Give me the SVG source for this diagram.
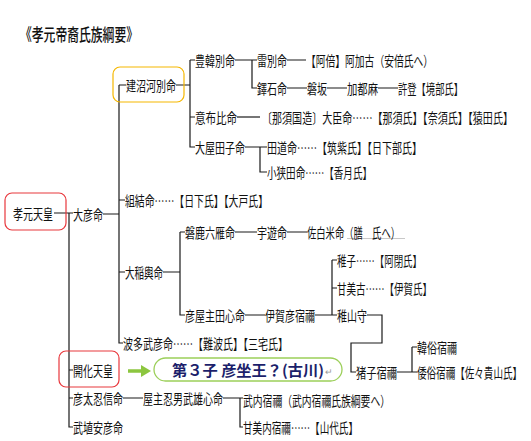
<svg xmlns="http://www.w3.org/2000/svg" width="531" height="441" viewBox="0 0 531 441">
<style>
text{font-family:"Noto Sans CJK JP","Noto Sans CJK SC",sans-serif;font-size:14px;fill:#111;dominant-baseline:central}
.t{font-size:17px;font-weight:500}
.c{stroke:#1a1a1a;stroke-width:1.2;fill:none}
.rb{fill:none;stroke:#e8383d;stroke-width:1.2}
.yb{fill:none;stroke:#f5b700;stroke-width:1.2}
.g{font-weight:bold;fill:#1c1f6b;font-size:15px}
</style>
<rect width="531" height="441" fill="#fff"/>
<text class="t" x="20" y="33" textLength="118" lengthAdjust="spacingAndGlyphs">《孝元帝裔氏族綱要》</text>
<g id="connectors" class="c">
<path d="M54 213H73M69 213V427H73M69 370H73M69 398H73"/>
<path d="M103 214H119M119 85V343H123M119 85H126M119 200H125M119 272H125"/>
<path d="M176 85H190M190 60V147H195M190 60H195M190 117H195"/>
<path d="M235 60H257M252 60V88H257M287 60H306"/>
<path d="M287 88H307M327 88H347M378 88H398"/>
<path d="M237 117H260"/>
<path d="M245 147H267M260 147V172H267"/>
<path d="M163 272H180M180 232V315H185M180 232H185"/>
<path d="M235 232H257M287 232H307"/>
<path d="M245 315H265M315 315H337M332 260V315M332 260H337M332 288H337"/>
<path d="M367 315H382V343H351V372H356"/>
<path d="M397 372H417M412 347V372M412 347H417"/>
<path d="M123 398H143M223 398H243M240 398V427H243"/>
<line x1="347" y1="238.5" x2="405" y2="238.5" stroke="#c8c8c8" stroke-width="1"/>
</g>
<g id="n_kogen"><rect class="rb" x="5" y="193" width="61" height="37" rx="7"/><text x="13" y="213" textLength="40" lengthAdjust="spacingAndGlyphs">孝元天皇</text></g>
<g id="n_ohiko"><text x="73" y="214" textLength="30" lengthAdjust="spacingAndGlyphs">大彦命</text></g>
<g id="n_takenuna"><rect class="yb" x="113" y="67" width="71" height="35" rx="7"/><text x="126" y="85" textLength="50" lengthAdjust="spacingAndGlyphs">建沼河別命</text></g>
<g id="n_toyokara"><text x="195" y="60" textLength="40" lengthAdjust="spacingAndGlyphs">豊韓別命</text></g>
<g id="n_ikazuchi"><text x="257" y="60" textLength="30" lengthAdjust="spacingAndGlyphs">雷別命</text></g>
<g id="n_abe"><text x="306" y="60" textLength="127" lengthAdjust="spacingAndGlyphs">【阿倍】阿加古（安倍氏へ）</text></g>
<g id="n_nuteshi"><text x="257" y="88" textLength="30" lengthAdjust="spacingAndGlyphs">鐸石命</text></g>
<g id="n_iwasaka"><text x="307" y="88" textLength="20" lengthAdjust="spacingAndGlyphs">磐坂</text></g>
<g id="n_katsuma"><text x="347" y="88" textLength="31" lengthAdjust="spacingAndGlyphs">加都麻</text></g>
<g id="n_koto"><text x="398" y="88" textLength="65" lengthAdjust="spacingAndGlyphs">許登【境部氏】</text></g>
<g id="n_ofuhi"><text x="195" y="117" textLength="42" lengthAdjust="spacingAndGlyphs">意布比命</text></g>
<g id="n_nasu" transform="translate(262 117) scale(0.664 1)"><text x="0" y="0" textLength="378" lengthAdjust="spacingAndGlyphs">〔那須国造〕大臣命……【那須氏】【奈須氏】【猿田氏】</text></g>
<g id="n_oyatako"><text x="195" y="147" textLength="50" lengthAdjust="spacingAndGlyphs">大屋田子命</text></g>
<g id="n_tamichi"><text x="267" y="147" textLength="155" lengthAdjust="spacingAndGlyphs">田道命……【筑紫氏】【日下部氏】</text></g>
<g id="n_osada"><text x="267" y="172" textLength="105" lengthAdjust="spacingAndGlyphs">小狭田命……【香月氏】</text></g>
<g id="n_kumiyui"><text x="125" y="200" textLength="143" lengthAdjust="spacingAndGlyphs">組結命……【日下氏】【大戸氏】</text></g>
<g id="n_oinako"><text x="125" y="272" textLength="38" lengthAdjust="spacingAndGlyphs">大稲輿命</text></g>
<g id="n_iwakamu"><text x="185" y="232" textLength="50" lengthAdjust="spacingAndGlyphs">磐鹿六雁命</text></g>
<g id="n_uaso"><text x="257" y="232" textLength="30" lengthAdjust="spacingAndGlyphs">宇遊命</text></g>
<g id="n_sashiroyone"><text x="307" y="232" textLength="93" lengthAdjust="spacingAndGlyphs">佐白米命（膳　氏へ）</text></g>
<g id="n_hikoyanushi"><text x="185" y="315" textLength="60" lengthAdjust="spacingAndGlyphs">彦屋主田心命</text></g>
<g id="n_igahiko"><text x="265" y="315" textLength="50" lengthAdjust="spacingAndGlyphs">伊賀彦宿禰</text></g>
<g id="n_wakago"><text x="337" y="260" textLength="85" lengthAdjust="spacingAndGlyphs">稚子……【阿閉氏】</text></g>
<g id="n_umako"><text x="337" y="288" textLength="95" lengthAdjust="spacingAndGlyphs">甘美古……【伊賀氏】</text></g>
<g id="n_wakayamamori"><text x="337" y="315" textLength="30" lengthAdjust="spacingAndGlyphs">稚山守</text></g>
<g id="n_ikago"><text x="356" y="372" textLength="41" lengthAdjust="spacingAndGlyphs">猪子宿禰</text></g>
<g id="n_karakashi"><text x="417" y="347" textLength="40" lengthAdjust="spacingAndGlyphs">韓俗宿禰</text></g>
<g id="n_yamatokashi" transform="translate(417 372) scale(0.682 1)"><text x="0" y="0" textLength="154" lengthAdjust="spacingAndGlyphs">倭俗宿禰【佐々貴山氏】</text></g>
<g id="n_hatatake"><text x="123" y="343" textLength="165" lengthAdjust="spacingAndGlyphs">波多武彦命……【難波氏】【三宅氏】</text></g>
<g id="n_kaika"><rect class="rb" x="59" y="351" width="60" height="36" rx="7"/><text x="73" y="370" textLength="40" lengthAdjust="spacingAndGlyphs">開化天皇</text></g>
<g id="note">
<path d="M128 371H142" stroke="#8cc63f" stroke-width="3.5"/>
<polygon points="141,365 151,371 141,377" fill="#8cc63f"/>
<rect x="154" y="358" width="188" height="23" rx="11.5" fill="#fff" stroke="#9ccf5a" stroke-width="1.3"/>
<text class="g" x="172" y="369.5" textLength="152" lengthAdjust="spacingAndGlyphs">第３子 彦坐王？(古川)</text>
<text x="325" y="371" style="font-size:9px;fill:#999">↵</text>
</g>
<g id="n_hikofutsu"><text x="73" y="398" textLength="50" lengthAdjust="spacingAndGlyphs">彦太忍信命</text></g>
<g id="n_yanushi"><text x="143" y="398" textLength="80" lengthAdjust="spacingAndGlyphs">屋主忍男武雄心命</text></g>
<g id="n_takeuchi"><text x="243" y="400" textLength="147" lengthAdjust="spacingAndGlyphs">武内宿禰（武内宿禰氏族綱要へ）</text></g>
<g id="n_umashiuchi"><text x="243" y="427" textLength="115" lengthAdjust="spacingAndGlyphs">甘美内宿禰……【山代氏】</text></g>
<g id="n_takehaniyasu"><text x="73" y="427" textLength="50" lengthAdjust="spacingAndGlyphs">武埴安彦命</text></g>
</svg>
